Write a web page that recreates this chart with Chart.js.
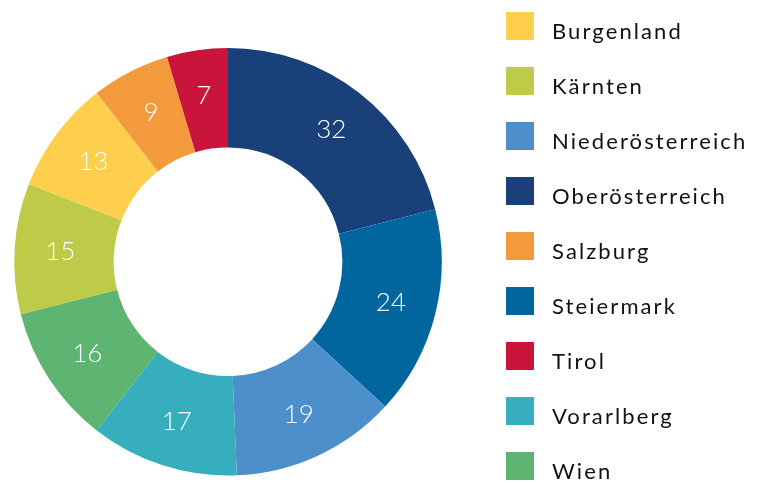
<!DOCTYPE html>
<html>
<head>
<meta charset="utf-8">
<script src="https://cdn.jsdelivr.net/npm/chart.js@4"></script>
<style>
html,body{margin:0;padding:0;background:#fff;overflow:hidden;}
#wrap{position:relative;width:765px;height:483px;}
</style>
</head>
<body>
<div id="wrap"><canvas id="c" width="765" height="483"></canvas></div>
<script>
// Data (slice order, clockwise from top)
const categories = ["Oberösterreich","Steiermark","Niederösterreich","Vorarlberg","Wien","Kärnten","Burgenland","Salzburg","Tirol"];
const values = [32,24,19,17,16,15,13,9,7];
const colors = ["#1A4079","#02669E","#4C8FCB","#36AEBE","#5EB471","#BECB48","#FECF4D","#F39B3C","#C9143C"];
// Legend order (alphabetical)
const legendOrder = ["Burgenland","Kärnten","Niederösterreich","Oberösterreich","Salzburg","Steiermark","Tirol","Vorarlberg","Wien"];

const sliceLabels = {
  id: 'sliceLabels',
  afterDatasetsDraw(chart) {
    const ctx = chart.ctx;
    const meta = chart.getDatasetMeta(0);
    ctx.save();
    ctx.fillStyle = '#ffffff';
    ctx.font = '300 26px Lato, "Open Sans", sans-serif';
    ctx.textAlign = 'center';
    ctx.textBaseline = 'middle';
    meta.data.forEach((arc, i) => {
      const p = arc.getProps(['x','y','startAngle','endAngle','innerRadius','outerRadius'], true);
      const a = (p.startAngle + p.endAngle) / 2;
      const r = (p.innerRadius + p.outerRadius) / 2 + 4;
      ctx.fillText(String(values[i]), p.x + Math.cos(a) * r, p.y + Math.sin(a) * r);
    });
    ctx.restore();
  }
};

const customLegend = {
  id: 'customLegend',
  afterDraw(chart) {
    const ctx = chart.ctx;
    const boxX = 506, boxSize = 28, top0 = 12, pitch = 55, textX = 552;
    ctx.save();
    ctx.font = '22px Lato, "Open Sans", sans-serif';
    if ('letterSpacing' in ctx) ctx.letterSpacing = '2.1px';
    ctx.textAlign = 'left';
    ctx.textBaseline = 'alphabetic';
    legendOrder.forEach((name, k) => {
      const idx = categories.indexOf(name);
      const y = top0 + pitch * k;
      ctx.fillStyle = colors[idx];
      ctx.fillRect(boxX, y, boxSize, boxSize);
      ctx.fillStyle = '#111111';
      ctx.fillText(name, textX, y + 26.5);
    });
    ctx.restore();
  }
};

new Chart(document.getElementById('c'), {
  type: 'doughnut',
  data: {
    labels: categories,
    datasets: [{
      data: values,
      backgroundColor: colors,
      borderWidth: 0,
      hoverOffset: 0
    }]
  },
  options: {
    responsive: false,
    animation: false,
    cutout: '53.5%',
    layout: { padding: { left: 14, top: 48, right: 323, bottom: 7.5 } },
    plugins: {
      legend: { display: false },
      tooltip: { enabled: false }
    }
  },
  plugins: [sliceLabels, customLegend]
});
</script>
</body>
</html>
